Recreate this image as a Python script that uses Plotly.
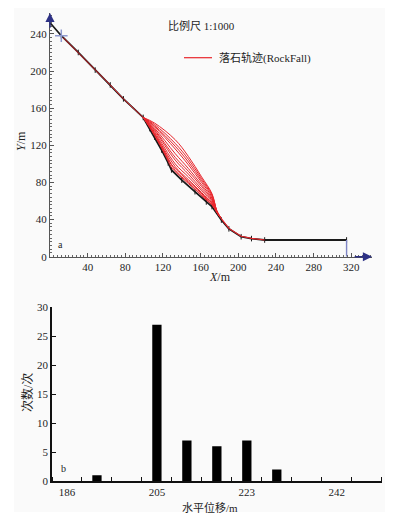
import plotly.graph_objects as go

# ---------------- data: panel a (slope profile & rockfall trajectories) --------------
profile_x = [0, 12, 30, 48, 64, 78, 99, 106, 111, 118.5, 125.5, 129, 140, 154, 166, 172, 182, 190, 203, 214, 228, 315]
profile_y = [252, 238, 220, 201, 185, 170, 150, 138, 129, 115, 101, 93.5, 82.5, 70, 59, 54, 39.5, 30, 21.5, 19.5, 18, 18]

roll_x = [14, 30, 48, 64, 78, 99]
roll_y = [236, 220, 201, 185, 170, 150]

flight_x = [99, 111, 133, 147, 161, 172, 177, 180.5]
flight_ys = [
    [150, 144, 126, 108, 86, 68, 50, 43],
    [150, 142.5, 122, 105, 84, 67, 50, 43],
    [150, 141, 119, 102, 82, 66, 49.5, 43],
    [150, 140, 116, 99, 80, 64.5, 49.5, 43],
    [150, 138.5, 111, 95, 77.5, 63, 49, 43],
    [150, 137, 107, 92, 75.5, 61.5, 49, 43],
    [150, 136, 104, 89, 73, 60.5, 48.5, 43],
    [150, 134.5, 100, 86, 71, 59, 48.5, 43],
    [150, 133, 97, 83, 69, 57.5, 48, 43],
    [150, 131.5, 93, 80, 66.5, 56, 48, 43],
]
# trajectories that stay close to the slope surface
near_x = [99, 106, 111, 118.5, 125.5, 129, 140, 154, 166, 172, 180.5]
near_ys = [
    [150, 140, 132, 119, 106, 99.5, 88, 75, 63, 57.5, 43],
    [150, 139, 130.5, 117, 103, 96, 85, 72.5, 61, 56, 43],
]
tail_x = [180.5, 190, 203, 214, 228]
tail_y = [43, 30.5, 22, 19.8, 18]

start_x = [12]
start_y = [238]

x_ticks_a = [40, 80, 120, 160, 200, 240, 280, 320]
y_ticks_a = [0, 40, 80, 120, 160, 200, 240]

# ---------------- data: panel b (histogram of horizontal displacement) ---------------
bin_index = list(range(11))
counts = [0, 1, 0, 27, 7, 6, 7, 2, 0, 0, 0]
tick_bins = [0, 3, 6, 9]
tick_labels = ["186", "205", "223", "242"]
y_ticks_b = [0, 5, 10, 15, 20, 25, 30]

# page has an 8px body margin -> figure is drawn 8px in; coordinates below are window pixels
OFF = 8
W, H = 394 - OFF, 517 - OFF
def px(x):
    return (x - OFF) / W
def py(y):
    return 1 - (y - OFF) / H

FONT = "Liberation Serif, Noto Sans CJK SC, serif"
RED = "#e8262c"
NAVY = "#2d3185"

fig = go.Figure()

fig.add_trace(go.Scatter(x=profile_x, y=profile_y, mode="lines+markers",
                         line=dict(color="#1a1a1a", width=1.8),
                         marker=dict(symbol="line-ns-open", size=4, color="#1a1a1a", line=dict(width=1)),
                         xaxis="x", yaxis="y", showlegend=False, hoverinfo="skip"))
fig.add_trace(go.Scatter(x=roll_x, y=roll_y, mode="lines", line=dict(color=RED, width=1),
                         xaxis="x", yaxis="y", showlegend=False))
for fy in flight_ys:
    fig.add_trace(go.Scatter(x=flight_x, y=fy, mode="lines",
                             line=dict(color=RED, width=1.0, shape="spline", smoothing=1.0),
                             xaxis="x", yaxis="y", showlegend=False))
for fy in near_ys:
    fig.add_trace(go.Scatter(x=near_x, y=fy, mode="lines",
                             line=dict(color=RED, width=1.0, shape="spline", smoothing=0.8),
                             xaxis="x", yaxis="y", showlegend=False))
fig.add_trace(go.Scatter(x=tail_x, y=tail_y, mode="lines", line=dict(color=RED, width=1.2),
                         xaxis="x", yaxis="y", showlegend=False))
fig.add_trace(go.Scatter(x=[profile_x[-1], profile_x[-1]], y=[0, profile_y[-1]], mode="lines",
                         line=dict(color="#7f86c6", width=1.4), xaxis="x", yaxis="y", showlegend=False))
fig.add_trace(go.Scatter(x=start_x, y=start_y, mode="markers",
                         marker=dict(symbol="cross-thin-open", size=9, color="#8f9ad0", line=dict(width=1.5)),
                         xaxis="x", yaxis="y", showlegend=False))

fig.add_trace(go.Bar(x=bin_index, y=counts, width=0.31, marker=dict(color="#000000", line=dict(width=0)),
                     xaxis="x2", yaxis="y2", showlegend=False))

tickfont = dict(family=FONT, size=11, color="#1e1e1e")

def note(x, y, text, size=11, angle=0, xanchor="center"):
    return dict(x=px(x), y=py(y), xref="paper", yref="paper", text=text, showarrow=False,
                xanchor=xanchor, yanchor="middle", textangle=angle,
                font=dict(family=FONT, size=size, color="#1e1e1e"))

fig.update_layout(
    width=W, height=H,
    margin=dict(l=0, r=0, t=0, b=0),
    paper_bgcolor="white", plot_bgcolor="rgba(0,0,0,0)",
    template="none",
    xaxis=dict(domain=[px(50), px(372)], range=[0, 342], anchor="y",
               showline=True, linecolor="#555", linewidth=1.2, showgrid=False, zeroline=False,
               tickvals=x_ticks_a, ticks="inside", ticklen=4, tickcolor="#555", tickfont=tickfont,
               minor=dict(dtick=4, tick0=0, ticks="inside", ticklen=2, tickcolor="#666", showgrid=False),
               automargin=False),
    yaxis=dict(domain=[py(256.7), py(13)], range=[0, 262.5], anchor="x",
               showline=True, linecolor="#555", linewidth=1.2, showgrid=False, zeroline=False,
               tickvals=y_ticks_a, ticks="inside", ticklen=4, tickcolor="#555", tickfont=tickfont,
               minor=dict(dtick=4, tick0=0, ticks="inside", ticklen=2, tickcolor="#666", showgrid=False),
               automargin=False),
    xaxis2=dict(domain=[px(52), px(381.7)], range=[-0.5, 10.5], anchor="y2",
                showline=True, linecolor="#111", linewidth=1.6, showgrid=False, zeroline=False,
                tickvals=tick_bins, ticktext=tick_labels, ticks="", tickfont=tickfont,
                minor=dict(tick0=0.5, dtick=1, ticks="inside", ticklen=4, tickcolor="#111", tickwidth=1.2, showgrid=False),
                automargin=False),
    yaxis2=dict(domain=[py(481), py(307.3)], range=[0, 30], anchor="x2",
                showline=True, linecolor="#111", linewidth=1.6, showgrid=False, zeroline=False,
                tickvals=y_ticks_b, ticks="inside", ticklen=4, tickcolor="#111", tickwidth=1.2, tickfont=tickfont,
                automargin=False),
    shapes=[
        dict(type="rect", xref="paper", yref="paper", x0=px(14), x1=px(385), y0=py(512), y1=py(7),
             fillcolor="#fafafa", line=dict(width=0), layer="below"),
        dict(type="line", xref="paper", yref="paper", x0=px(184), x1=px(212), y0=py(57.7), y1=py(57.7),
             line=dict(color=RED, width=1.2)),
    ],
    annotations=[
        dict(x=342, y=0, ax=322, ay=0, xref="x", yref="y", axref="x", ayref="y", text="",
             showarrow=True, arrowhead=2, arrowsize=1.3, arrowwidth=1.4, arrowcolor=NAVY, standoff=0),
        dict(x=0, y=262.5, ax=0, ay=245, xref="x", yref="y", axref="x", ayref="y", text="",
             showarrow=True, arrowhead=2, arrowsize=1.3, arrowwidth=1.4, arrowcolor=NAVY, standoff=0),
        note(201, 25.5, "比例尺 1:1000"),
        note(217, 57.7, "落石轨迹(RockFall)", xanchor="left"),
        note(220, 277, "<i>X</i>/m", size=12),
        note(21, 141, "<i>Y</i>/m", size=12, angle=-90),
        note(61, 244, "a", size=10),
        note(63, 468, "b", size=10),
        note(27, 393, "次数/次", size=12, angle=-90),
        note(210, 507, "水平位移/m"),
    ],
)

fig.write_html("out.html")
